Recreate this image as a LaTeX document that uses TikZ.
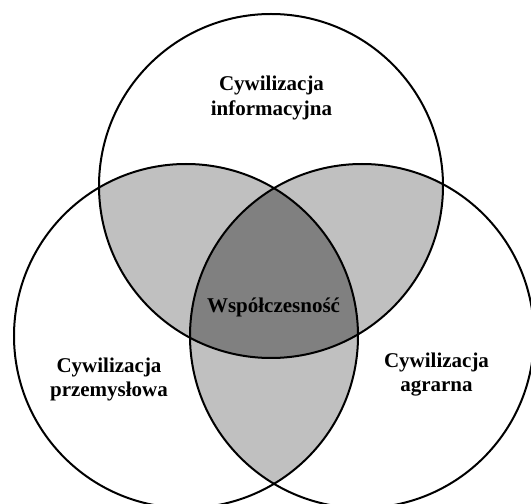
\documentclass[tikz,border=0pt]{standalone}
\usepackage{fontspec}
\setmainfont{Liberation Serif}
\usetikzlibrary{positioning}
\definecolor{pairgray}{RGB}{192,192,192}
\definecolor{coregray}{RGB}{128,128,128}
\tikzstyle{etykieta} = [font=\fontsize{21}{24.5}\selectfont\bfseries, align=center, inner sep=0pt]
\tikzstyle{kolo} = [draw=black, line width=2pt]
\newcommand{\kinf}{(srodekI) circle (172)}
\newcommand{\kprz}{(srodekP) circle (172)}
\newcommand{\kagr}{(srodekA) circle (172)}

\begin{document}
\begin{tikzpicture}[x=1pt,y=1pt]
		\useasboundingbox (0,0) rectangle (531,504);
		\clip (0,0) rectangle (531,504);
		\fill[white] (0,0) rectangle (531,504);
		\coordinate (srodekI) at (271,318);
		\coordinate (srodekP) at (186,168);
		\coordinate (srodekA) at (362,168);
		% czesci wspolne par
		\begin{scope} \clip \kinf; \fill[pairgray] \kprz; \end{scope}
		\begin{scope} \clip \kinf; \fill[pairgray] \kagr; \end{scope}
		\begin{scope} \clip \kprz; \fill[pairgray] \kagr; \end{scope}
		% czesc wspolna trzech
		\begin{scope} \clip \kinf; \clip \kprz; \fill[coregray] \kagr; \end{scope}
		\draw[kolo] \kinf;
		\draw[kolo] \kprz;
		\draw[kolo] \kagr;
		\node[etykieta] (informacyjna) at (271.5,406) {Cywilizacja\\informacyjna};
		\node[etykieta] (przemyslowa) at (109,124.4) {Cywilizacja\\przemysłowa};
		\node[etykieta] (agrarna) at (436.5,129.6) {Cywilizacja\\agrarna};
		\node[etykieta, anchor=base] (wspolczesnosc) at (273.5,191) {Współczesność};
	\end{tikzpicture}
\end{document}
